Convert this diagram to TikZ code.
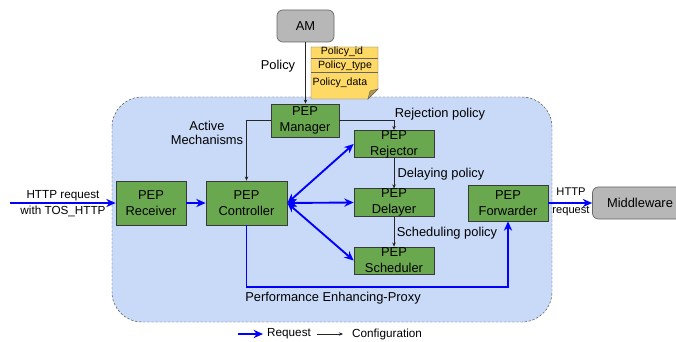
\documentclass[tikz,border=0pt]{standalone}
\usepackage{fontspec}
\setmainfont{Liberation Sans}
\definecolor{pepgreen}{HTML}{6AA84F}
\definecolor{pepborder}{HTML}{3A3A3A}
\definecolor{proxybg}{HTML}{C9DAF8}
\definecolor{extgray}{HTML}{B7B7B7}
\definecolor{extborder}{HTML}{666666}
\definecolor{notebg}{HTML}{FFD966}
\definecolor{reqblue}{HTML}{0000FF}
\usetikzlibrary{arrows.meta, positioning}

\begin{document}
\begin{tikzpicture}[x=0.03cm, y=-0.03cm, font=\fontsize{11}{12}\selectfont,
    pep/.style={draw=pepborder, fill=pepgreen, align=center, inner sep=0pt, line width=0.6pt,
      font=\fontsize{11}{13.5}\selectfont},
    ext/.style={draw=extborder, fill=extgray, rounded corners=5pt, align=center, line width=0.6pt},
    req/.style={draw=reqblue, line width=1.6pt, -{Stealth[length=8pt,width=7pt]}},
    reqboth/.style={draw=reqblue, line width=1.6pt, {Stealth[length=8pt,width=7pt]}-{Stealth[length=8pt,width=7pt]}},
    conf/.style={draw=black!85, line width=0.5pt, -{Stealth[length=3.5pt,width=3pt]}},
    lbl/.style={inner sep=1pt, align=center}]

  \useasboundingbox (0,0) rectangle (676,342);
  \clip (0,0) rectangle (676,342);

  % proxy area
  \draw[draw=black!70, fill=proxybg, dash pattern=on 2pt off 1.5pt, rounded corners=0.9cm]
    (112,97) rectangle (552,322);
  \node[lbl] (proxylbl) at (333,298) {Performance Enhancing-Proxy};

  % outside boxes
  \node[ext, minimum width=1.71cm, minimum height=0.96cm] (am) at (305.5,26) {AM};
  \node[ext, minimum width=2.85cm, minimum height=0.96cm, text width=2.4cm] (mw) at (640,203) {Middleware};

  % policy note
  \draw[draw=black!60, fill=notebg, line width=0.4pt]
    (311,47) -- (378,47) -- (378,89) -- (368,99) -- (311,99) -- cycle;
  \draw[draw=black!60, fill=notebg!70!black, line width=0.4pt] (368,99) -- (370,91) -- (378,89) -- cycle;
  \draw[black!60, line width=0.6pt] (311,58) -- (378,58);
  \draw[black!60, line width=0.6pt] (311,72) -- (378,72);
  \node[font=\fontsize{9}{10}\selectfont, inner sep=0pt] (pid) at (342,52) {Policy\_id};
  \node[font=\fontsize{9}{10}\selectfont, inner sep=0pt] (ptype) at (345,65.5) {Policy\_type};
  \node[font=\fontsize{9}{10}\selectfont, inner sep=0pt] (pdata) at (340,83) {Policy\_data};

  % PEP modules
  \node[pep, minimum width=2.04cm, minimum height=0.99cm] (mgr) at (305,120.5) {PEP\\Manager};
  \node[pep, minimum width=2.1cm, minimum height=1.32cm] (rcv) at (151,203) {PEP\\Receiver};
  \node[pep, minimum width=2.43cm, minimum height=1.32cm] (ctl) at (246.5,203) {PEP\\Controller};
  \node[pep, minimum width=2.4cm, minimum height=0.78cm] (rej) at (394,144) {PEP\\Rejector};
  \node[pep, minimum width=2.4cm, minimum height=0.81cm] (dly) at (394,202.5) {PEP\\Delayer};
  \node[pep, minimum width=2.4cm, minimum height=0.81cm] (sch) at (394,260.5) {PEP\\Scheduler};
  \node[pep, minimum width=2.4cm, minimum height=1.08cm] (fwd) at (508,203) {PEP\\Forwarder};

  % configuration
  \draw[conf] (am.south) -- (am.south |- mgr.north);
  \node[lbl] (policylbl) at (278,66) {Policy};
  \draw[conf] (mgr.west) -| (ctl.north);
  \node[lbl] (activelbl) at (207,133) {Active\\Mechanisms};
  \draw[conf] (mgr.east) -| (rej.north);
  \node[lbl] (rejlbl) at (440,114) {Rejection policy};
  \draw[conf] (rej.south) -- (dly.north);
  \node[lbl] (dlylbl) at (441,174) {Delaying policy};
  \draw[conf] (dly.south) -- (sch.north);
  \node[lbl] (schlbl) at (447,233) {Scheduling policy};

  % requests
  \coordinate (in) at (10,203);
  \draw[req] (in) -- (rcv.west);
  \node[lbl, font=\fontsize{10}{14}\selectfont] (inlbl) at (63,203.5) {HTTP request\\with TOS\_HTTP};
  \draw[req] (rcv.east) -- (ctl.west);
  \draw[reqboth] (ctl.east) -- (rej.west);
  \draw[reqboth] (ctl.east) -- (dly.west);
  \draw[reqboth] (ctl.east) -- (sch.west);
  \draw[req] (ctl.south) |- (246,287) -| (fwd.south);
  \draw[req] (fwd.east) -- (mw.west);
  \node[lbl, font=\fontsize{9.5}{15}\selectfont] (outlbl) at (571,202) {HTTP\\request};

  % legend
  \coordinate (lg1) at (238,334);
  \coordinate (lg2) at (263,334);
  \coordinate (lg3) at (317,334);
  \coordinate (lg4) at (343,334);
  \draw[req, line width=1.4pt] (lg1) -- (lg2);
  \node[font=\fontsize{10}{11}\selectfont, anchor=west, inner sep=0pt] (reqlg) at (267,334) {Request};
  \draw[conf] (lg3) -- (lg4);
  \node[font=\fontsize{10}{11}\selectfont, anchor=west, inner sep=0pt] (conflg) at (352,334) {Configuration};
\end{tikzpicture}
\end{document}
